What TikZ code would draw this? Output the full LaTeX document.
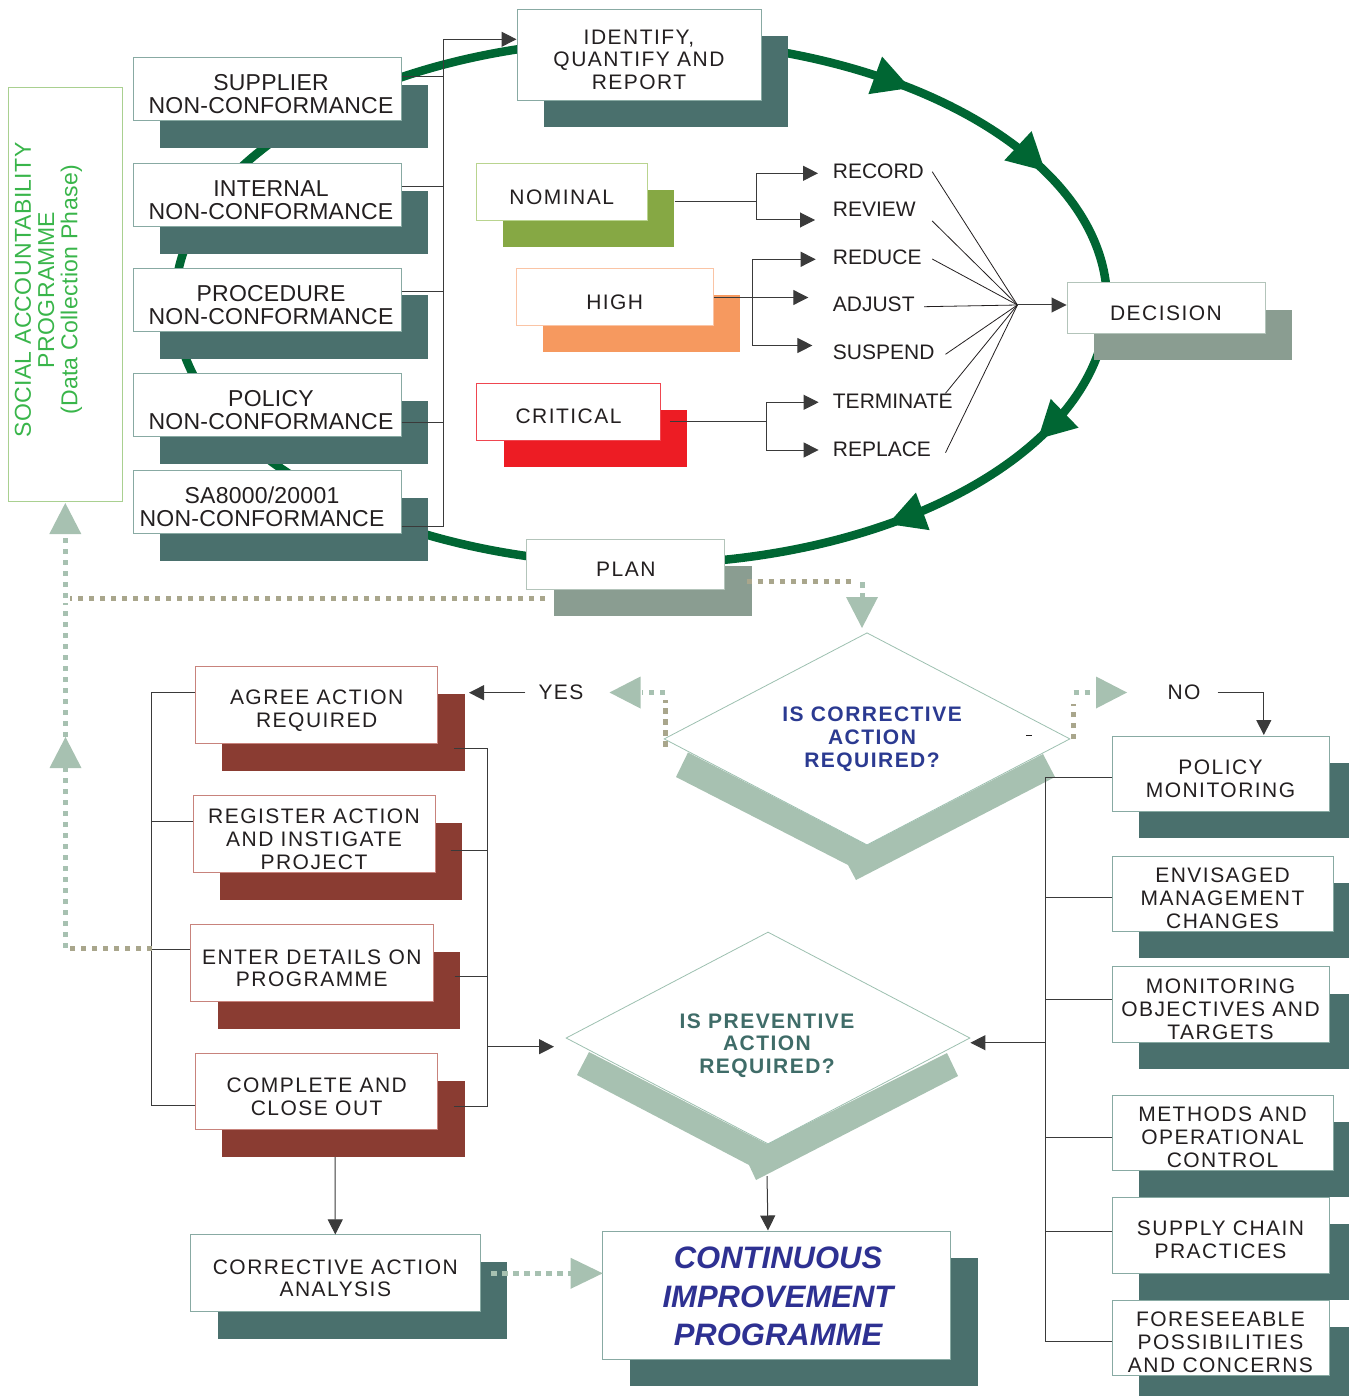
\documentclass[tikz,border=0pt]{standalone}
\usepackage{fontspec}
\setmainfont{Liberation Sans}
\newfontfamily\wide[LetterSpace=7]{Liberation Sans}
\newfontfamily\airy[LetterSpace=1.5]{Liberation Sans}
\newfontfamily\snug[LetterSpace=1]{Liberation Sans}
\usetikzlibrary{shadows,shapes.geometric,arrows.meta,calc}

\definecolor{tealshadow}{HTML}{4A706D}
\definecolor{tealborder}{HTML}{88AAA3}
\definecolor{loopgreen}{HTML}{006633}
\definecolor{brownshadow}{HTML}{8A3C32}
\definecolor{brownborder}{HTML}{C8837C}
\definecolor{greyshadow}{HTML}{8A9D91}
\definecolor{greyborder}{HTML}{B3C4BA}
\definecolor{palegreen}{HTML}{A7C1B1}
\definecolor{khaki}{HTML}{A9A68C}
\definecolor{navy}{HTML}{2E3192}
\definecolor{navyb}{HTML}{2B3A91}
\definecolor{slateteal}{HTML}{3F6C68}
\definecolor{nomshadow}{HTML}{86A844}
\definecolor{nomborder}{HTML}{B9D48F}
\definecolor{highshadow}{HTML}{F6995F}
\definecolor{highborder}{HTML}{FAC4A5}
\definecolor{critshadow}{HTML}{ED1C24}
\definecolor{critborder}{HTML}{EF4650}
\definecolor{ink}{HTML}{231F20}
\definecolor{wiregrey}{HTML}{3A3A3A}
\definecolor{sapgreen}{HTML}{39B54A}
\definecolor{sapborder}{HTML}{A9D090}
\definecolor{diamondline}{HTML}{9DC0B0}

% filled triangular head: colour, tip x, tip y, direction, length, half width
\newcommand\headtri[6]{%
  \begin{scope}[shift={(#2,#3)}, rotate=#4]
    \fill[#1] (0pt,0pt) -- (-#5pt,#6pt) -- (-#5pt,-#6pt) -- cycle;
  \end{scope}}

% box with offset shadow and its caption: name, cx, cy, w, h, box style, font style, text
\newcommand\card[8]{%
  \node[#6, minimum width=#4pt, minimum height=#5pt] (#1) at (#2,#3) {};
  \node[txt, #7] (#1-txt) at ([yshift=-5pt]#1.center) {#8};}

\tikzset{
  card/.style 2 args={rectangle, draw=#2, line width=1pt, fill=white, inner sep=0pt,
    general shadow={fill=#1, shadow xshift=27pt, shadow yshift=-27pt}},
  tealcard/.style={card={tealshadow}{tealborder}},
  browncard/.style={card={brownshadow}{brownborder}},
  greycard/.style={card={greyshadow}{greyborder}},
  nomcard/.style={card={nomshadow}{nomborder}},
  highcard/.style={card={highshadow}{highborder}},
  critcard/.style={card={critshadow}{critborder}},
  source/.style={tealcard, minimum width=268pt, minimum height=63pt},
  txt/.style={inner sep=0pt, align=center, text=ink},
  big/.style={font=\snug\fontsize{23}{23}\selectfont},
  std/.style={font=\wide\fontsize{21}{22.8}\selectfont},
  tag/.style={inner sep=0pt, text=ink, font=\fontsize{21}{23}\selectfont},
  wire/.style={draw=wiregrey, line width=1pt},
  tip/.style={-{Triangle[length=15pt,width=15pt]}},
  bothtips/.style={{Triangle[length=15pt,width=15pt]}-{Triangle[length=15pt,width=15pt]}},
  fan/.style={draw=ink, line width=0.8pt},
  dots/.style={line width=5pt, dash pattern=on 5.5pt off 5.5pt},
  khakidots/.style={dots, draw=khaki},
  paledots/.style={dots, draw=palegreen},
  query/.style={diamond, draw=diamondline, line width=0.8pt, fill=white, inner sep=0pt},
}

\begin{document}
\begin{tikzpicture}[x=1pt, y=-1pt]
\useasboundingbox (0,0) rectangle (1348,1396);

% ---------------- the improvement loop ----------------
\draw[loopgreen, line width=8.5pt] (641,302) ellipse [x radius=466pt, y radius=262pt];
\headtri{loopgreen}{910}{88}{-20}{37}{20}
\headtri{loopgreen}{1045}{171}{-43}{37}{20}
\headtri{loopgreen}{1038}{439}{-136}{37}{20}
\headtri{loopgreen}{888}{524}{-160}{37}{20}

% ---------------- programme panel ----------------
\node[draw=sapborder, line width=1pt, minimum width=114.7pt, minimum height=414pt, inner sep=0pt] (sap) at (65.4,294.8) {};
\node[rotate=90, inner sep=0pt, align=center, text=sapgreen, font=\airy\fontsize{23}{23.3}\selectfont] (sap-txt) at (48.5,290)
  {SOCIAL ACCOUNTABILITY\\PROGRAMME\\(Data Collection Phase)};

% ---------------- non-conformance sources ----------------
\node[source] (sup) at (267,89.5) {};
\node[txt, big] (sup-txt) at (271,94.5) {SUPPLIER\\NON-CONFORMANCE};
\node[source] (int) at (267,195.3) {};
\node[txt, big] (int-txt) at (271,200.3) {INTERNAL\\NON-CONFORMANCE};
\node[source] (pro) at (267,300) {};
\node[txt, big] (pro-txt) at (271,305) {PROCEDURE\\NON-CONFORMANCE};
\node[source] (pol) at (267,405) {};
\node[txt, big] (pol-txt) at (271,410) {POLICY\\NON-CONFORMANCE};
\node[source] (sa) at (267,502) {};
\node[txt, big] (sa-txt) at (262,507) {SA8000/20001\\NON-CONFORMANCE};

\card{idn}{639}{54.7}{244}{91}{tealcard}{std}{IDENTIFY,\\QUANTIFY AND\\REPORT}

% ---------------- severity ----------------
\card{nom}{561.7}{191.8}{171}{57}{nomcard}{std}{NOMINAL}
\card{high}{614.7}{296.8}{197}{57}{highcard}{std}{HIGH}
\card{crit}{568.5}{411.7}{183.6}{56.7}{critcard}{std}{CRITICAL}

\card{dec}{1166}{308}{198}{50.6}{greycard}{std}{DECISION}
\card{plan}{625.8}{564.2}{198.3}{50.3}{greycard}{std}{PLAN}

% ---------------- responses ----------------
\node[tag, anchor=west] (rec) at (832.7,171.7) {RECORD};
\node[tag, anchor=west] (rev) at (832.7,209.5) {REVIEW};
\node[tag, anchor=west] (red) at (832.7,257.5) {REDUCE};
\node[tag, anchor=west] (adj) at (832.7,304.5) {ADJUST};
\node[tag, anchor=west] (sus) at (832.7,352.3) {SUSPEND};
\node[tag, anchor=west] (ter) at (832.7,401) {TERMINATE};
\node[tag, anchor=west] (rep) at (832.7,448.8) {REPLACE};

% sources feed the identification step
\coordinate (lbT) at (443.3,39.3);
\coordinate (lbB) at (443.3,526.5);
\draw[wire] (lbT) -- (lbB);
\draw[wire,tip] (lbT) -- (idn.west |- lbT);
\foreach \n/\y in {sup/77, int/186.4, pro/291.4, pol/422.5, sa/526.5}
  \draw[wire] (\n.east |- 0,\y) -- (lbT |- 0,\y);

% severity branches
\coordinate (nj) at (756.7,201.7);
\draw[wire] (nom.east |- nj) ++(27,0) -- (nj);
\draw[wire,bothtips] (818,173.3) -- (nj |- 0,173.3) -- (nj |- 0,220) -- (815,220);
\draw[wire,bothtips] (815.7,259.3) -- (752.9,259.3) -- (752.9,345.5) -- (812.4,345.5);
\draw[wire,tip] (high.east |- 0,297.5) -- (808.3,297.5);
\coordinate (cj) at (766,421);
\draw[wire] (crit.east |- cj) ++(9,0) -- (cj);
\draw[wire,bothtips] (818.6,402.3) -- (cj |- 0,402.3) -- (cj |- 0,450) -- (818.6,450);

% responses converge on the decision
\coordinate (hub) at (1017.4,305);
\coordinate (f1) at (932.2,171.7);
\coordinate (f2) at (932.2,221);
\coordinate (f3) at (932.2,259);
\coordinate (f4) at (924,306.7);
\coordinate (f5) at (945.5,354.3);
\coordinate (f6) at (945.5,393.3);
\coordinate (f7) at (945.5,452.7);
\foreach \p in {f1,f2,f3,f4,f5,f6,f7} \draw[fan] (\p) -- (hub);
\draw[wire,tip] (hub) -- (dec.west |- hub);

% ---------------- corrective action ----------------
\fill[palegreen] (688,752.4) -- (676,777) -- (848,865) -- (856,880) -- (1055,777) -- (1043,754) -- (867,845) -- cycle;
\node[query, minimum width=406pt, minimum height=212.3pt] (d1) at (867,738.9) {};
\node[txt, text=navyb, font=\wide\bfseries\fontsize{21}{23}\selectfont] (d1-txt) at (872,739.5) {IS CORRECTIVE\\ACTION\\REQUIRED?};
\draw[ink, line width=0.8pt] (1026,735) -- (1031.5,735);

\card{agree}{316.7}{705.3}{242.5}{76.7}{browncard}{std}{AGREE ACTION\\REQUIRED}
\card{reg}{314}{834.3}{242}{76.7}{browncard}{std}{REGISTER ACTION\\AND INSTIGATE\\PROJECT}
\card{ent}{311.8}{963.2}{242.4}{77}{browncard}{std}{ENTER DETAILS ON\\PROGRAMME}
\card{comp}{316.7}{1091.8}{242.5}{76.3}{browncard}{std}{COMPLETE AND\\CLOSE OUT}
\card{caa}{335.3}{1273.3}{289.4}{76.7}{tealcard}{std}{CORRECTIVE ACTION\\ANALYSIS}

% ---------------- preventive action ----------------
\fill[palegreen] (589,1052) -- (577,1075) -- (749,1165) -- (756,1180) -- (958,1076) -- (947,1053) -- (767,1144) -- cycle;
\node[query, minimum width=404pt, minimum height=212pt] (d2) at (768,1038) {};
\node[txt, text=slateteal, font=\wide\bfseries\fontsize{21}{22.7}\selectfont] (d2-txt) at (767,1045.5) {IS PREVENTIVE\\ACTION\\REQUIRED?};

\card{pm}{1220.5}{773.5}{217}{75}{tealcard}{std}{POLICY\\MONITORING}
\card{emc}{1222.5}{893.5}{221}{75}{tealcard}{std}{ENVISAGED\\MANAGEMENT\\CHANGES}
\card{mot}{1220.5}{1004.3}{217}{75.5}{tealcard}{std}{MONITORING\\OBJECTIVES AND\\TARGETS}
\card{moc}{1222.5}{1132.5}{221}{75}{tealcard}{std}{METHODS AND\\OPERATIONAL\\CONTROL}
\card{scp}{1220.5}{1235}{217}{76}{tealcard}{std}{SUPPLY CHAIN\\PRACTICES}
\card{fpc}{1220.5}{1337.5}{217}{75}{tealcard}{std}{FORESEEABLE\\POSSIBILITIES\\AND CONCERNS}

\node[tealcard, minimum width=347.9pt, minimum height=128pt] (cip) at (776.9,1295) {};
\node[txt, text=navy, font=\bfseries\itshape\fontsize{31}{38.7}\selectfont] (cip-txt) at (778,1296.5) {CONTINUOUS\\IMPROVEMENT\\PROGRAMME};

% YES / NO
\node[tag, font=\wide\fontsize{21}{23}\selectfont] (yes) at (561,692.7) {YES};
\node[tag, font=\wide\fontsize{21}{23}\selectfont] (no) at (1184,692.5) {NO};
\draw[wire,tip] ([xshift=-13pt]yes.west) -- (469,692.7);
\draw[wire,tip] ([xshift=17pt]no.east) -| (1263.8,735);

% action brackets
\coordinate (llT) at (151.8,692.7);
\coordinate (llB) at (151.8,1105);
\draw[wire] (agree.west |- llT) -- (llT) -- (llB) -- (comp.west |- llB);
\draw[wire] (llT |- 0,821) -- (reg.west |- 0,821);
\draw[wire] (llT |- 0,949) -- (ent.west |- 0,949);
\coordinate (lrT) at (487.5,748);
\coordinate (lrB) at (487.5,1106.7);
\draw[wire] (agree.east |- lrT) ++(16,0) -- (lrT) -- (lrB) -- ++(-33.5,0);
\draw[wire] (reg.east |- 0,850) ++(15,0) -- (lrT |- 0,850);
\draw[wire] (ent.east |- 0,976.7) ++(21,0) -- (lrT |- 0,976.7);
\draw[wire,tip] (lrT |- 0,1046.7) -- (554,1046.7);
\draw[wire,tip] (comp.south |- 0,1157) ++(18.3,0) -- (caa.north);

% monitoring bracket
\coordinate (rcT) at (1045,777);
\coordinate (rcB) at (1045,1341);
\draw[wire] (pm.west |- rcT) -- (rcT) -- (rcB) -- (fpc.west |- rcB);
\foreach \n/\y in {emc/897, mot/999, moc/1137, scp/1231}
  \draw[wire] (rcT |- 0,\y) -- (\n.west |- 0,\y);
\draw[wire,tip] (rcT |- 0,1042.7) -- (d2.east |- 0,1042.7);
\draw[wire,tip] (767,1176) -- (d2.south |- cip.north);

% ---------------- dotted feedback routes ----------------
\draw[khakidots] (545,598.3) -- (70,598.3);
\draw[paledots] (65.3,598) -- (65.3,534);
\headtri{palegreen}{65.3}{503}{90}{31}{16}
\draw[paledots] (65.3,948) -- (65.3,768);
\draw[paledots] (65.3,737) -- (65.3,603);
\headtri{palegreen}{65.5}{737}{90}{31}{16}
\draw[khakidots] (152,948) -- (70,948);

\draw[khakidots] (746.7,581.7) -- (856,581.7);
\draw[paledots] (862,582) -- (862,597);
\headtri{palegreen}{862}{628}{-90}{31}{16}

\draw[khakidots] (665,746.7) -- (665,700);
\draw[paledots] (665,692.5) -- (642,692.5);
\headtri{palegreen}{609.5}{692.5}{180}{31}{16}

\draw[khakidots] (1073.5,739) -- (1073.5,704);
\draw[paledots] (1073.5,692.5) -- (1096,692.5);
\headtri{palegreen}{1127}{692.5}{0}{31}{16}

\draw[paledots] (caa.east |- 0,1273.3) ++(10.6,0) -- (571,1273.3);
\headtri{palegreen}{602.7}{1273.3}{0}{32}{15.5}
\end{tikzpicture}
\end{document}
